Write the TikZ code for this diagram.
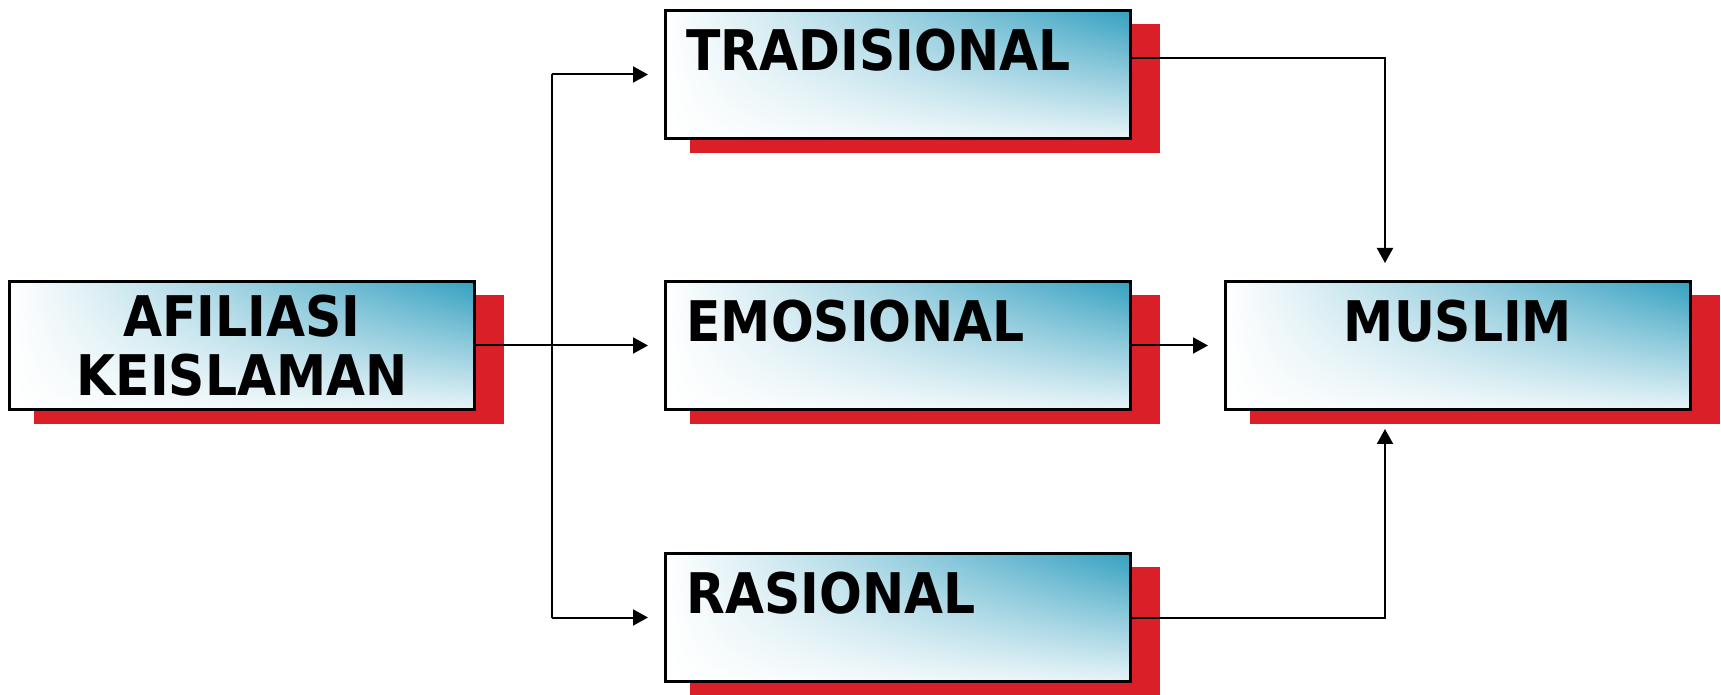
\documentclass[tikz,border=0pt]{standalone}
\usepackage{fontspec}
\usepackage{xcolor}
\usetikzlibrary{arrows.meta, positioning, calc, shadows, shadings}
\newfontfamily\boxfont{DejaVu Sans Condensed}
\definecolor{shadowred}{RGB}{218,31,41}
\definecolor{tealblue}{RGB}{52,160,192}

\begin{document}
\begin{tikzpicture}[
		x=0.5pt, y=-0.5pt,
		box/.style={rectangle, draw=black, line width=1.5pt, minimum width=232.5pt, minimum height=64pt, anchor=north west, upper left=white, upper right=tealblue, lower left=white, lower right=tealblue!12!white, general shadow={fill=shadowred, shadow xshift=13.25pt, shadow yshift=-7pt, shadow scale=1.01}, font=\boxfont\bfseries\fontsize{28pt}{29.5pt}\selectfont},
		toptext/.style={box, align=left, text width=211.5pt, inner xsep=10.5pt, inner ysep=0pt, text height=30pt, text depth=34pt},
		midtext/.style={box, align=center},
		line/.style={line width=1pt, color=black},
		arrow/.style={line, -{Triangle[length=7.5pt, width=8pt]}}
	]
	\useasboundingbox (0,0) rectangle (1721,695);

	% Source
	\node (afiliasi) [midtext] at (8,280) {AFILIASI\\KEISLAMAN};

	% Three kinds of affiliation
	\node (tradisional) [toptext] at (664,9) {TRADISIONAL};
	\node (emosional) [toptext] at (664,280) {EMOSIONAL};
	\node (rasional) [toptext] at (664,552) {RASIONAL};

	% Result
	\node (muslim) [toptext, align=center] at (1224,280) {MUSLIM};

	\coordinate (split) at (552,344);
	\coordinate (merge) at (1385,344);

	% Left branch
	\draw [arrow, shorten >=8pt] (afiliasi.east) -- (emosional.west);
	\draw [line] (split |- tradisional.west) -- (split |- rasional.west);
	\draw [arrow, shorten >=8pt] (split |- tradisional.west) -- (tradisional.west);
	\draw [arrow, shorten >=8pt] (split |- rasional.west) -- (rasional.west);

	% Right branch
	\draw [arrow, shorten >=8.5pt] ([yshift=8pt]tradisional.east) -| (merge |- muslim.north);
	\draw [arrow, shorten >=8pt] (emosional.east) -- (muslim.west);
	\draw [arrow, shorten >=9pt] (rasional.east) -| (merge |- muslim.south);

\end{tikzpicture}
\end{document}
